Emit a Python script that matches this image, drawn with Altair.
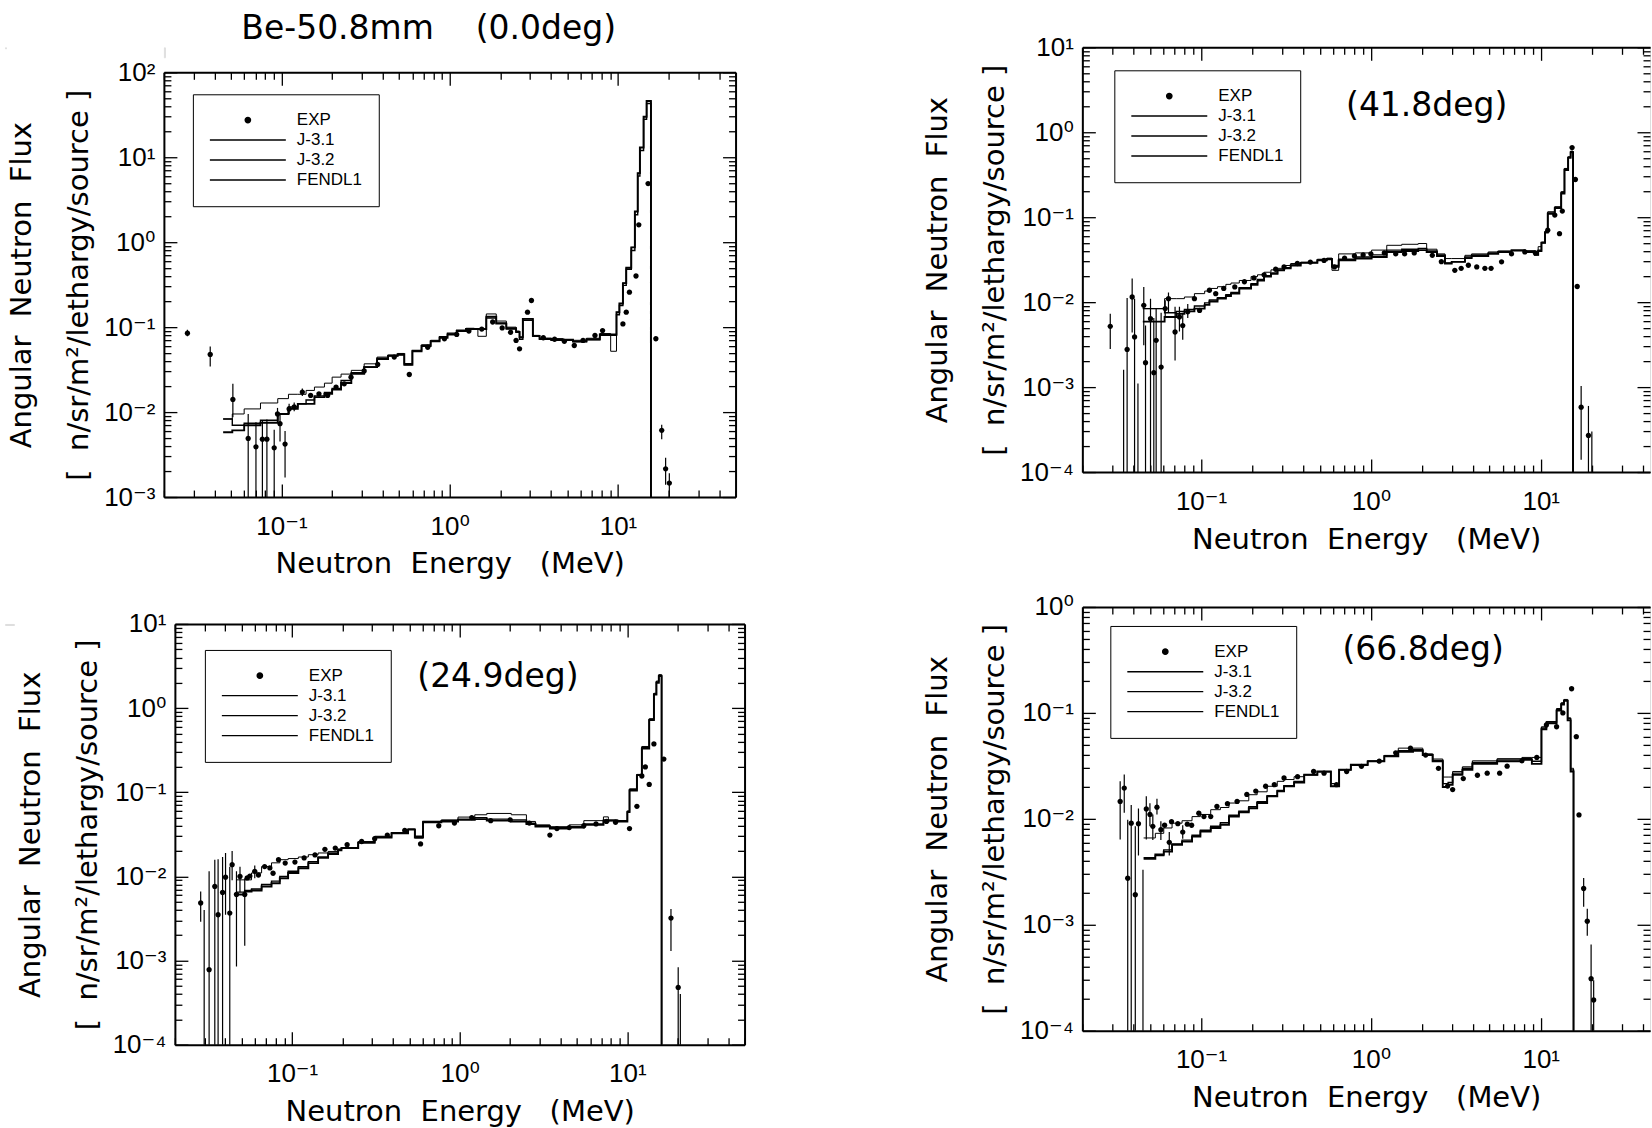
import altair as alt
import pandas as pd

# ---------------- legend / series ----------------
SERIES = ["EXP", "J-3.1", "J-3.2", "FENDL1"]
SERIES_COLORS = ["black", "black", "black", "black"]
DOT_PATH = "M0.07,0A0.07,0.07,0,1,1,-0.07,0A0.07,0.07,0,1,1,0.07,0Z"
SERIES_SHAPES = [DOT_PATH, "stroke", "stroke", "stroke"]
LINE_WIDTHS = {"J-3.1": 1.0, "J-3.2": 1.9, "FENDL1": 1.4}

# ---------------- Panel 1 : 0.0 deg ----------------
P1_EDGES = [0.045, 0.051, 0.060, 0.075, 0.095, 0.11, 0.125, 0.14, 0.157, 0.18,
            0.20, 0.226, 0.26, 0.31, 0.37, 0.43, 0.49, 0.537, 0.60, 0.68,
            0.77, 0.87, 0.97, 1.10, 1.25, 1.40, 1.47, 1.65, 1.89, 2.17,
            2.48, 2.60, 2.72, 3.12, 3.42, 4.0, 4.7, 5.4, 6.5, 7.8,
            9.05, 9.8, 10.2, 10.7, 11.2, 12.0, 12.6, 13.1, 13.5, 14.2,
            14.8, 15.7]
P1_J31 = [0.0083, 0.0095, 0.0109, 0.0128, 0.0144, 0.0162, 0.0162, 0.018, 0.0197, 0.0219,
          0.0258, 0.028, 0.031, 0.037, 0.0444, 0.047, 0.049, 0.036, 0.053, 0.062,
          0.07, 0.076, 0.083, 0.091, 0.097, 0.0955, 0.078, 0.143, 0.118, 0.1,
          0.09, 0.076, 0.125, 0.08, 0.074, 0.073, 0.071, 0.07, 0.074, 0.084,
          0.052, 0.15, 0.19, 0.33, 0.5, 0.87, 2.3, 6.5, 13, 30,
          46, 1e-6]
P1_J32 = [0.0058, 0.0061, 0.0070, 0.0075, 0.0095, 0.0109, 0.0125, 0.0125, 0.015, 0.0164,
          0.0184, 0.022, 0.0283, 0.0338, 0.042, 0.046, 0.048, 0.036, 0.052, 0.06,
          0.068, 0.075, 0.082, 0.09, 0.095, 0.095, 0.095, 0.133, 0.11, 0.097,
          0.088, 0.076, 0.125, 0.079, 0.073, 0.072, 0.071, 0.068, 0.072, 0.082,
          0.082, 0.15, 0.19, 0.33, 0.5, 0.87, 2.3, 6.5, 13, 30,
          46, 1e-6]
P1_FENDL = [0.0083, 0.0070, 0.0074, 0.0080, 0.0095, 0.0115, 0.0125, 0.0139, 0.0155, 0.017,
            0.019, 0.0235, 0.029, 0.034, 0.043, 0.046, 0.047, 0.037, 0.053, 0.061,
            0.069, 0.077, 0.085, 0.092, 0.096, 0.096, 0.096, 0.128, 0.112, 0.095,
            0.087, 0.072, 0.12, 0.078, 0.072, 0.07, 0.07, 0.067, 0.071, 0.08,
            0.08, 0.14, 0.18, 0.31, 0.48, 0.8, 2.1, 6.0, 12, 28,
            43, 1e-6]
P1_EXP_E = [0.0276, 0.0377, 0.0514, 0.0634, 0.0705, 0.077, 0.0819, 0.0905, 0.0947, 0.098,
            0.105, 0.111, 0.119, 0.133, 0.149, 0.167, 0.188, 0.211, 0.236, 0.259,
            0.31, 0.373, 0.468, 0.575, 0.74, 0.93, 1.1, 1.3, 1.55, 1.8,
            2.05, 2.3, 2.48, 2.6, 2.9, 3.06, 3.6, 4.2, 4.8, 5.5,
            6.2, 7.3, 8.1, 10.7, 11.2, 11.7, 12.8, 13.3, 15.1, 16.8,
            18.2, 19.2, 20.2]
P1_EXP_V = [0.085, 0.0477, 0.0141, 0.0049, 0.0039, 0.0048, 0.0048, 0.0038, 0.0095, 0.0073,
            0.0042, 0.0109, 0.0115, 0.0172, 0.0157, 0.0164, 0.0157, 0.0197, 0.0215, 0.0258,
            0.0305, 0.0364, 0.0444, 0.0277, 0.058, 0.073, 0.082, 0.09, 0.095, 0.115,
            0.098, 0.087, 0.0697, 0.0556, 0.15, 0.206, 0.075, 0.072, 0.068, 0.0608,
            0.0697, 0.08, 0.091, 0.109, 0.15, 0.258, 0.40, 1.6, 4.9, 0.073,
            0.0061, 0.00215, 0.00146]
P1_ERR_E = [0.0276, 0.0377, 0.0514, 0.0634, 0.0705, 0.077, 0.0819, 0.0905, 0.0947, 0.098,
            0.105, 0.111, 0.119, 0.133, 18.2, 19.2, 20.2]
P1_ERR_LO = [0.078, 0.0345, 0.0087, 1e-6, 1e-6, 1e-6, 1e-6, 1e-6, 0.008, 0.0045,
             0.0017, 0.0095, 0.0102, 0.0155, 0.0048, 0.0014, 1e-6]
P1_ERR_HI = [0.093, 0.0593, 0.0215, 0.0095, 0.0076, 0.008, 0.0082, 0.0062, 0.0112, 0.0095,
             0.006, 0.0125, 0.013, 0.019, 0.0071, 0.0029, 0.0019]

# ---------------- Panel 2 : 41.8 deg ----------------
P2_EDGES = [0.0454, 0.061, 0.0714, 0.0798, 0.0914, 0.105, 0.112, 0.125, 0.14, 0.15,
            0.168, 0.197, 0.215, 0.235, 0.258, 0.282, 0.308, 0.337, 0.386, 0.484,
            0.55, 0.59, 0.646, 0.81, 1.01, 1.24, 1.52, 1.9, 2.13, 2.45,
            2.73, 2.99, 3.58, 3.92, 4.91, 5.62, 6.73, 8.06, 9.23, 9.66,
            10.1, 10.6, 11.0, 12.1, 13.2, 13.8, 14.5, 15.0, 15.5]
P2_J31 = [0.0084, 0.011, 0.011, 0.0115, 0.0126, 0.0135, 0.0145, 0.0152, 0.0162, 0.0168,
          0.018, 0.02, 0.021, 0.0225, 0.024, 0.025, 0.027, 0.0285, 0.0296, 0.032,
          0.033, 0.0237, 0.037, 0.038, 0.041, 0.0467, 0.048, 0.049, 0.042, 0.037,
          0.0326, 0.0326, 0.0356, 0.037, 0.039, 0.04, 0.0405, 0.04, 0.037, 0.045,
          0.051, 0.068, 0.116, 0.133, 0.2, 0.375, 0.515, 0.6, 1e-6]
P2_J32 = [0.0059, 0.0067, 0.0073, 0.0078, 0.0084, 0.0093, 0.0102, 0.011, 0.0118, 0.0126,
          0.0145, 0.016, 0.018, 0.02, 0.0215, 0.0237, 0.025, 0.027, 0.029, 0.031,
          0.032, 0.026, 0.031, 0.0326, 0.034, 0.039, 0.04, 0.041, 0.039, 0.035,
          0.0285, 0.0298, 0.033, 0.035, 0.037, 0.039, 0.0405, 0.039, 0.036, 0.04,
          0.05, 0.066, 0.11, 0.128, 0.19, 0.36, 0.5, 0.58, 1e-6]
P2_FENDL = [0.0084, 0.0075, 0.0078, 0.0082, 0.009, 0.0098, 0.0106, 0.0113, 0.0122, 0.013,
            0.0148, 0.0165, 0.0185, 0.0205, 0.022, 0.0237, 0.0255, 0.0275, 0.0292, 0.0315,
            0.0325, 0.027, 0.032, 0.034, 0.036, 0.041, 0.042, 0.043, 0.04, 0.036,
            0.029, 0.03, 0.034, 0.036, 0.038, 0.0395, 0.041, 0.04, 0.036, 0.041,
            0.05, 0.067, 0.112, 0.13, 0.195, 0.37, 0.51, 0.59, 1e-6]
P2_EXP_E = [0.0292, 0.0367, 0.0393, 0.0406, 0.046, 0.0471, 0.0504, 0.0527, 0.0544, 0.0582,
            0.0615, 0.0643, 0.0703, 0.0746, 0.078, 0.0835, 0.0914, 0.098, 0.112, 0.122,
            0.136, 0.158, 0.18, 0.205, 0.235, 0.275, 0.308, 0.369, 0.44, 0.53,
            0.61, 0.7, 0.8, 0.9, 1.0, 1.2, 1.4, 1.58, 1.8, 2.3,
            2.6, 3.12, 3.4, 3.75, 4.2, 4.69, 5.1, 5.88, 6.73, 8.06,
            9.3, 11.0, 12.1, 12.9, 13.4, 15.3, 16.0, 16.4, 17.3, 19.1]
P2_EXP_V = [0.00519, 0.00278, 0.0115, 0.0039, 0.00917, 0.00194, 0.00638, 0.00148, 0.00355, 0.00172,
            0.0084, 0.011, 0.00445, 0.0067, 0.0053, 0.0077, 0.011, 0.008, 0.0138, 0.0126,
            0.0145, 0.0151, 0.0174, 0.0193, 0.021, 0.0244, 0.026, 0.0285, 0.0296, 0.031,
            0.026, 0.033, 0.035, 0.036, 0.037, 0.038, 0.037, 0.037, 0.038, 0.0356,
            0.03, 0.0237, 0.025, 0.0272, 0.026, 0.025, 0.025, 0.0298, 0.037, 0.039,
            0.038, 0.0703, 0.106, 0.064, 0.118, 0.66, 0.278, 0.0153, 0.00058, 0.00027]
P2_ERR_E = [0.0292, 0.035, 0.0367, 0.0393, 0.0406, 0.0425, 0.046, 0.0471, 0.0504, 0.0527,
            0.0544, 0.0582, 0.0615, 0.0643, 0.0703, 0.0746, 0.078, 0.0835, 17.3, 19.1,
            20.0]
P2_ERR_LO = [0.0028, 1e-6, 1e-6, 0.0044, 1e-6, 1e-6, 0.0031, 1e-6, 1e-6, 1e-6,
             1e-6, 1e-6, 0.0065, 0.0075, 0.00205, 0.0045, 0.0036, 0.0065, 0.00014, 1e-6,
             1e-6]
P2_ERR_HI = [0.0073, 0.0016, 0.0112, 0.019, 0.011, 0.0011, 0.0151, 0.0053, 0.011, 0.0065,
             0.0085, 0.0075, 0.0105, 0.013, 0.0088, 0.0088, 0.0075, 0.0095, 0.00103, 0.0006,
             0.0003]

# ---------------- Panel 3 : 24.9 deg ----------------
P3_EDGES = [0.0466, 0.0522, 0.0573, 0.0658, 0.0754, 0.0845, 0.0947, 0.109, 0.125, 0.143,
            0.164, 0.188, 0.197, 0.248, 0.311, 0.392, 0.492, 0.54, 0.604, 0.777,
            0.977, 1.23, 1.45, 2.03, 2.5, 2.83, 3.45, 4.5, 5.5, 7.2,
            7.7, 8.76, 10.0, 10.3, 11.4, 12.2, 13.5, 14.4, 14.9, 15.4,
            16.0]
P3_J31 = [0.0091, 0.0091, 0.011, 0.0131, 0.0145, 0.0158, 0.0163, 0.017, 0.0181, 0.019,
          0.0198, 0.021, 0.0217, 0.026, 0.03, 0.0327, 0.0365, 0.0286, 0.045, 0.047,
          0.0507, 0.054, 0.056, 0.054, 0.045, 0.041, 0.039, 0.041, 0.046, 0.051,
          0.047, 0.046, 0.06, 0.11, 0.163, 0.35, 0.75, 1.5, 2.1, 2.5,
          1e-6]
P3_J32 = [0.0061, 0.0066, 0.0068, 0.0076, 0.0083, 0.0095, 0.011, 0.0125, 0.0144, 0.0166,
          0.0185, 0.0205, 0.0217, 0.025, 0.029, 0.0325, 0.036, 0.029, 0.044, 0.045,
          0.047, 0.048, 0.046, 0.045, 0.042, 0.039, 0.037, 0.038, 0.041, 0.045,
          0.046, 0.045, 0.058, 0.105, 0.16, 0.33, 0.72, 1.45, 2.0, 2.4,
          1e-6]
P3_FENDL = [0.0065, 0.0068, 0.0071, 0.008, 0.0088, 0.01, 0.0115, 0.013, 0.015, 0.017,
            0.019, 0.021, 0.022, 0.0255, 0.0295, 0.033, 0.0365, 0.03, 0.045, 0.046,
            0.048, 0.05, 0.048, 0.047, 0.043, 0.04, 0.038, 0.039, 0.042, 0.047,
            0.046, 0.046, 0.059, 0.107, 0.16, 0.34, 0.73, 1.47, 2.05, 2.45,
            1e-6]
P3_EXP_E = [0.0285, 0.032, 0.0346, 0.0362, 0.0385, 0.0401, 0.0425, 0.0439, 0.0466, 0.0489,
            0.0522, 0.054, 0.056, 0.0599, 0.063, 0.0686, 0.0737, 0.077, 0.083, 0.091,
            0.104, 0.118, 0.137, 0.157, 0.181, 0.213, 0.26, 0.311, 0.37, 0.47,
            0.584, 0.75, 0.93, 1.18, 1.53, 2.0, 2.6, 3.45, 3.8, 4.5,
            5.5, 6.5, 7.5, 8.5, 10.3, 11.4, 12.2, 12.8, 13.5, 14.4,
            16.5, 18.2, 20.1]
P3_EXP_V = [0.00483, 0.00078, 0.0076, 0.0035, 0.00646, 0.0098, 0.00367, 0.0138, 0.0061, 0.01,
            0.0061, 0.0096, 0.0101, 0.0115, 0.0104, 0.0131, 0.0126, 0.0109, 0.0158, 0.0144,
            0.0148, 0.0166, 0.018, 0.021, 0.0217, 0.0238, 0.026, 0.028, 0.031, 0.0352,
            0.0243, 0.04, 0.043, 0.05, 0.046, 0.047, 0.043, 0.031, 0.037, 0.038,
            0.04, 0.042, 0.045, 0.044, 0.037, 0.068, 0.156, 0.2, 0.124, 0.375,
            0.248, 0.0032, 0.00048]
P3_ERR_E = [0.0285, 0.0299, 0.032, 0.0346, 0.0362, 0.0385, 0.0401, 0.0425, 0.0439, 0.0466,
            0.0489, 0.0522, 0.0599, 18.2, 20.1, 20.7]
P3_ERR_LO = [0.0029, 1e-6, 1e-6, 1e-6, 1e-6, 1e-6, 0.0035, 1e-6, 0.009, 0.00085,
             0.0065, 0.0015, 0.0095, 0.0013, 1e-6, 1e-6]
P3_ERR_HI = [0.0066, 0.004, 0.0115, 0.0158, 0.016, 0.017, 0.019, 0.013, 0.02, 0.0115,
             0.013, 0.0095, 0.0135, 0.0041, 0.00083, 0.0004]

# ---------------- Panel 4 : 66.8 deg ----------------
P4_EDGES = [0.0459, 0.0538, 0.0603, 0.0675, 0.0773, 0.0885, 0.0991, 0.114, 0.13, 0.146,
            0.167, 0.191, 0.214, 0.245, 0.281, 0.308, 0.353, 0.405, 0.484, 0.581,
            0.65, 0.762, 0.957, 1.2, 1.45, 1.77, 2.02, 2.31, 2.65, 2.85,
            3.03, 3.46, 3.96, 5.54, 7.75, 8.87, 10.1, 10.8, 12.4, 13.2,
            13.7, 14.4, 15.0, 15.6]
P4_J31 = [0.0066, 0.0073, 0.0082, 0.0091, 0.0096, 0.0105, 0.011, 0.0122, 0.0128, 0.0141,
          0.0148, 0.0169, 0.018, 0.0203, 0.0226, 0.0235, 0.025, 0.0261, 0.028, 0.0203,
          0.0291, 0.0324, 0.0353, 0.0397, 0.0465, 0.0465, 0.041, 0.0367, 0.0248, 0.0248,
          0.028, 0.031, 0.0353, 0.037, 0.038, 0.038, 0.074, 0.083, 0.11, 0.125,
          0.134, 0.09, 0.03, 1e-6]
P4_J32 = [0.0042, 0.0046, 0.0049, 0.0057, 0.0061, 0.0068, 0.0076, 0.0082, 0.0088, 0.0105,
          0.0115, 0.0126, 0.0141, 0.0163, 0.0182, 0.0203, 0.022, 0.0261, 0.028, 0.0203,
          0.0291, 0.0324, 0.0349, 0.039, 0.043, 0.044, 0.04, 0.035, 0.02, 0.021,
          0.026, 0.029, 0.033, 0.035, 0.036, 0.033, 0.07, 0.08, 0.105, 0.12,
          0.13, 0.085, 0.028, 1e-6]
P4_FENDL = [0.0043, 0.0045, 0.0051, 0.0058, 0.0063, 0.007, 0.0078, 0.0085, 0.0092, 0.0108,
            0.0118, 0.013, 0.0145, 0.0165, 0.0185, 0.0205, 0.0225, 0.026, 0.0278, 0.0215,
            0.029, 0.032, 0.035, 0.0392, 0.044, 0.045, 0.0405, 0.0355, 0.0215, 0.022,
            0.027, 0.03, 0.034, 0.036, 0.037, 0.035, 0.072, 0.082, 0.108, 0.122,
            0.132, 0.088, 0.029, 1e-6]
P4_EXP_E = [0.0334, 0.0353, 0.037, 0.0388, 0.041, 0.0428, 0.0476, 0.05, 0.052, 0.055,
            0.058, 0.061, 0.065, 0.067, 0.073, 0.078, 0.083, 0.088, 0.097, 0.104,
            0.114, 0.124, 0.143, 0.163, 0.186, 0.21, 0.24, 0.27, 0.308, 0.37,
            0.46, 0.53, 0.627, 0.72, 0.88, 1.12, 1.4, 1.71, 2.1, 2.5,
            2.83, 3.03, 3.5, 4.24, 4.84, 5.73, 6.34, 7.75, 9.48, 10.8,
            12.4, 13.5, 15.2, 16.2, 16.8, 17.9, 18.8, 19.8, 20.5]
P4_EXP_V = [0.0146, 0.0195, 0.00275, 0.0091, 0.00192, 0.009, 0.0124, 0.011, 0.0085, 0.0129,
            0.0079, 0.0087, 0.006, 0.0094, 0.009, 0.0075, 0.0089, 0.0087, 0.0113, 0.0105,
            0.0105, 0.0131, 0.0139, 0.0146, 0.017, 0.0183, 0.0203, 0.021, 0.0243, 0.025,
            0.028, 0.027, 0.021, 0.028, 0.0313, 0.035, 0.042, 0.0465, 0.04, 0.03,
            0.0204, 0.0189, 0.024, 0.0258, 0.027, 0.027, 0.0314, 0.0353, 0.038, 0.077,
            0.074, 0.1, 0.169, 0.0597, 0.0109, 0.0022, 0.00108, 0.00031, 0.000195]
P4_ERR_E = [0.0334, 0.0353, 0.037, 0.0388, 0.041, 0.0428, 0.0455, 0.0476, 0.05, 0.052,
            0.055, 0.058, 0.065, 0.078, 17.9, 18.8, 19.8, 20.5]
P4_ERR_LO = [0.0064, 0.0114, 1e-6, 1e-6, 1e-6, 0.0045, 1e-6, 0.0064, 0.0085, 0.0063,
             0.011, 0.0063, 0.0045, 0.0065, 0.00148, 0.00079, 1e-6, 1e-6]
P4_ERR_HI = [0.0226, 0.0262, 0.0098, 0.0135, 0.0085, 0.0125, 0.0033, 0.0163, 0.014, 0.011,
             0.0155, 0.0095, 0.0075, 0.0087, 0.00277, 0.00142, 0.00065, 0.0003]

# ---------------- text ----------------
MAIN_TITLE = "Be-50.8mm\u00a0\u00a0\u00a0\u00a0(0.0deg)"
ANGLE_LABELS = ["", "(41.8deg)", "(24.9deg)", "(66.8deg)"]
ANGLE_E = [1.0, 2.13, 1.69, 2.03]
ANGLE_V = [1.0, 2.02, 2.35, 0.39]
Y_TITLE = ["Angular\u00a0\u00a0Neutron\u00a0\u00a0Flux",
           "[\u00a0\u00a0n/sr/m\u00b2/lethargy/source\u00a0]"]
X_TITLE = "Neutron\u00a0\u00a0Energy\u00a0\u00a0\u00a0(MeV)"

# ---------------- ticks ----------------
X_MAJOR = [0.1, 1, 10]
X_MINOR = [0.02, 0.03, 0.04, 0.05, 0.06, 0.07, 0.08, 0.09,
           0.2, 0.3, 0.4, 0.5, 0.6, 0.7, 0.8, 0.9,
           2, 3, 4, 5, 6, 7, 8, 9, 20, 30, 40, 50]

LABEL_FONT = "Liberation Sans Narrow, Liberation Sans, DejaVu Sans"
X_LABEL_EXPR = "datum.value < 0.5 ? '10\u207b\u00b9' : (datum.value < 5 ? '10\u2070' : '10\u00b9')"
Y_LABEL_EXPR = ("'10' + (datum.value < 0.99 ? '\u207b' : '') + "
                "['\u2070','\u00b9','\u00b2','\u00b3','\u2074','\u2075'][abs(round(log(datum.value) / LN10))]")

MAJOR_LEN = 13
MINOR_LEN = 7


def y_major(lo, hi):
    return [10.0 ** k for k in range(lo, hi + 1)]


def y_minor(lo, hi):
    return [m * 10.0 ** k for k in range(lo, hi) for m in range(2, 10)]


def make_axis(orient, values, ticklen, domain=False, labels=False, label_expr=None,
              label_pad=0, title=None, title_pad=0, title_lh=None):
    kw = dict(orient=orient, values=values, grid=False, ticks=True,
              tickSize={"expr": str(-ticklen)}, tickColor="black", tickWidth=1.3,
              domain=domain, labels=labels, title=title)
    if domain:
        kw.update(domainColor="black", domainWidth=2)
    if labels:
        kw.update(labelExpr=label_expr, labelPadding=label_pad, labelFont=LABEL_FONT,
                  labelFontSize=26, labelColor="black", labelFlush=False, labelOverlap=False)
    if title is not None:
        kw.update(titleFont="DejaVu Sans", titleFontSize=29, titleFontWeight="normal",
                  titleColor="black", titlePadding=title_pad)
        if title_lh:
            kw["titleLineHeight"] = title_lh
    return alt.Axis(**kw)


def panel(edges, j31, j32, fendl, exp_e, exp_v, err_e, err_lo, err_hi,
          x_dom, y_dec, width, height, label, label_e, label_v, legend_xy,
          right_domain=True):
    xs = alt.Scale(type="log", domain=x_dom, nice=False)
    ys = alt.Scale(type="log", domain=[10.0 ** y_dec[0], 10.0 ** y_dec[1]], nice=False)
    ymaj = y_major(y_dec[0], y_dec[1])
    ymin = y_minor(y_dec[0], y_dec[1])

    rows = []
    for name, vals in (("J-3.1", j31), ("J-3.2", j32), ("FENDL1", fendl)):
        for e, v in zip(edges, vals):
            rows.append({"E": e, "flux": v, "series": name, "w": LINE_WIDTHS[name]})
    df_lines = pd.DataFrame(rows)
    df_exp = pd.DataFrame({"E": exp_e, "flux": exp_v, "series": ["EXP"] * len(exp_e)})
    df_err = pd.DataFrame({"E": err_e, "lo": err_lo, "hi": err_hi})
    df_txt = pd.DataFrame({"E": [label_e], "flux": [label_v], "label": [label]})

    color_scale = alt.Scale(domain=SERIES, range=SERIES_COLORS)
    legend = alt.Legend(title=None, orient="none", legendX=legend_xy[0], legendY=legend_xy[1],
                        direction="vertical", strokeColor="black", fillColor="white",
                        padding=16, labelFont="Liberation Sans", labelFontSize=17,
                        labelColor="black", labelOffset=10, symbolSize=5776,
                        symbolStrokeWidth=1.4, rowPadding=0, clipHeight=19.5)

    lines = alt.Chart(df_lines).mark_line(interpolate="step-after", clip=True).encode(
        x=alt.X("E:Q", scale=xs,
                axis=make_axis("bottom", X_MAJOR, MAJOR_LEN, domain=True, labels=True,
                               label_expr=X_LABEL_EXPR, label_pad=MAJOR_LEN + 16,
                               title=X_TITLE, title_pad=11)),
        y=alt.Y("flux:Q", scale=ys,
                axis=make_axis("left", ymaj, MAJOR_LEN, domain=True, labels=True,
                               label_expr=Y_LABEL_EXPR, label_pad=MAJOR_LEN + 9,
                               title=Y_TITLE, title_pad=10, title_lh=57)),
        color=alt.Color("series:N", scale=color_scale, legend=legend),
        strokeWidth=alt.StrokeWidth("w:Q", scale=None),
    )
    errs = alt.Chart(df_err).mark_rule(color="black", strokeWidth=1.2, clip=True).encode(
        x=alt.X("E:Q", scale=xs, axis=make_axis("bottom", X_MINOR, MINOR_LEN)),
        y=alt.Y("lo:Q", scale=ys, axis=make_axis("left", ymin, MINOR_LEN)),
        y2="hi:Q",
    )
    points = alt.Chart(df_exp).mark_point(filled=True, opacity=1, size=5776,
                                          clip=True).encode(
        x=alt.X("E:Q", scale=xs, axis=make_axis("top", X_MAJOR, MAJOR_LEN, domain=True)),
        y=alt.Y("flux:Q", scale=ys,
                axis=make_axis("right", ymaj, MAJOR_LEN, domain=right_domain)),
        color=alt.Color("series:N", scale=color_scale),
        shape=alt.Shape("series:N", scale=alt.Scale(domain=SERIES, range=SERIES_SHAPES)),
    )
    txt = alt.Chart(df_txt).mark_text(font="DejaVu Sans", fontSize=33, color="black",
                                      align="center", baseline="middle").encode(
        x=alt.X("E:Q", scale=xs, axis=make_axis("top", X_MINOR, MINOR_LEN)),
        y=alt.Y("flux:Q", scale=ys, axis=make_axis("right", ymin, MINOR_LEN)),
        text="label:N",
    )
    layer = alt.layer(lines, errs, points, txt).resolve_axis(x="independent", y="independent")
    return layer.properties(width=width, height=height)


def spacer(w, h):
    return alt.Chart(pd.DataFrame({"a": [1]})).mark_point(
        opacity=0, strokeOpacity=0, fillOpacity=0, size=1).encode(
        x=alt.X("a:Q", axis=None), y=alt.Y("a:Q", axis=None)).properties(width=w, height=h)


def indep(c):
    return c.resolve_scale(x="independent", y="independent", color="independent",
                           shape="independent").resolve_legend(
        color="independent", shape="independent")


p1 = panel(P1_EDGES, P1_J31, P1_J32, P1_FENDL, P1_EXP_E, P1_EXP_V,
           P1_ERR_E, P1_ERR_LO, P1_ERR_HI, [0.02, 50], (-3, 2), 572, 425,
           ANGLE_LABELS[0], ANGLE_E[0], ANGLE_V[0], (29, 22))
p2 = panel(P2_EDGES, P2_J31, P2_J32, P2_FENDL, P2_EXP_E, P2_EXP_V,
           P2_ERR_E, P2_ERR_LO, P2_ERR_HI, [0.02, 44], (-4, 1), 568, 425,
           ANGLE_LABELS[1], ANGLE_E[1], ANGLE_V[1], (32, 23), right_domain=False)
p3 = panel(P3_EDGES, P3_J31, P3_J32, P3_FENDL, P3_EXP_E, P3_EXP_V,
           P3_ERR_E, P3_ERR_LO, P3_ERR_HI, [0.02, 50], (-4, 1), 570, 421,
           ANGLE_LABELS[2], ANGLE_E[2], ANGLE_V[2], (30, 26))
p4 = panel(P4_EDGES, P4_J31, P4_J32, P4_FENDL, P4_EXP_E, P4_EXP_V,
           P4_ERR_E, P4_ERR_LO, P4_ERR_HI, [0.02, 44], (-4, 0), 568, 424,
           ANGLE_LABELS[3], ANGLE_E[3], ANGLE_V[3], (28, 19), right_domain=False)

p1_block = indep(alt.vconcat(spacer(1, 10), p1, spacing=0))
left_top = indep(alt.hconcat(spacer(1, 1), p1_block, spacing=0))
left_bot = indep(alt.hconcat(spacer(9, 1), p3, spacing=0))
left_col = indep(alt.vconcat(left_top, left_bot, spacing=30))
right_col = indep(alt.vconcat(p2, p4, spacing=38))

main_title = alt.TitleParams(text=MAIN_TITLE, font="DejaVu Sans", fontSize=33,
                             fontWeight="normal", color="black", anchor="start",
                             dx=237, offset={"expr": "-12"})

chart = indep(alt.hconcat(left_col, right_col, spacing=176)).properties(
    title=main_title,
    padding={"left": 4, "top": 12, "right": 0, "bottom": 0}
).configure_view(strokeWidth=0, strokeOpacity=0).configure(background="white")

chart.save("out.html", embed_options={"renderer": "svg", "actions": False})
